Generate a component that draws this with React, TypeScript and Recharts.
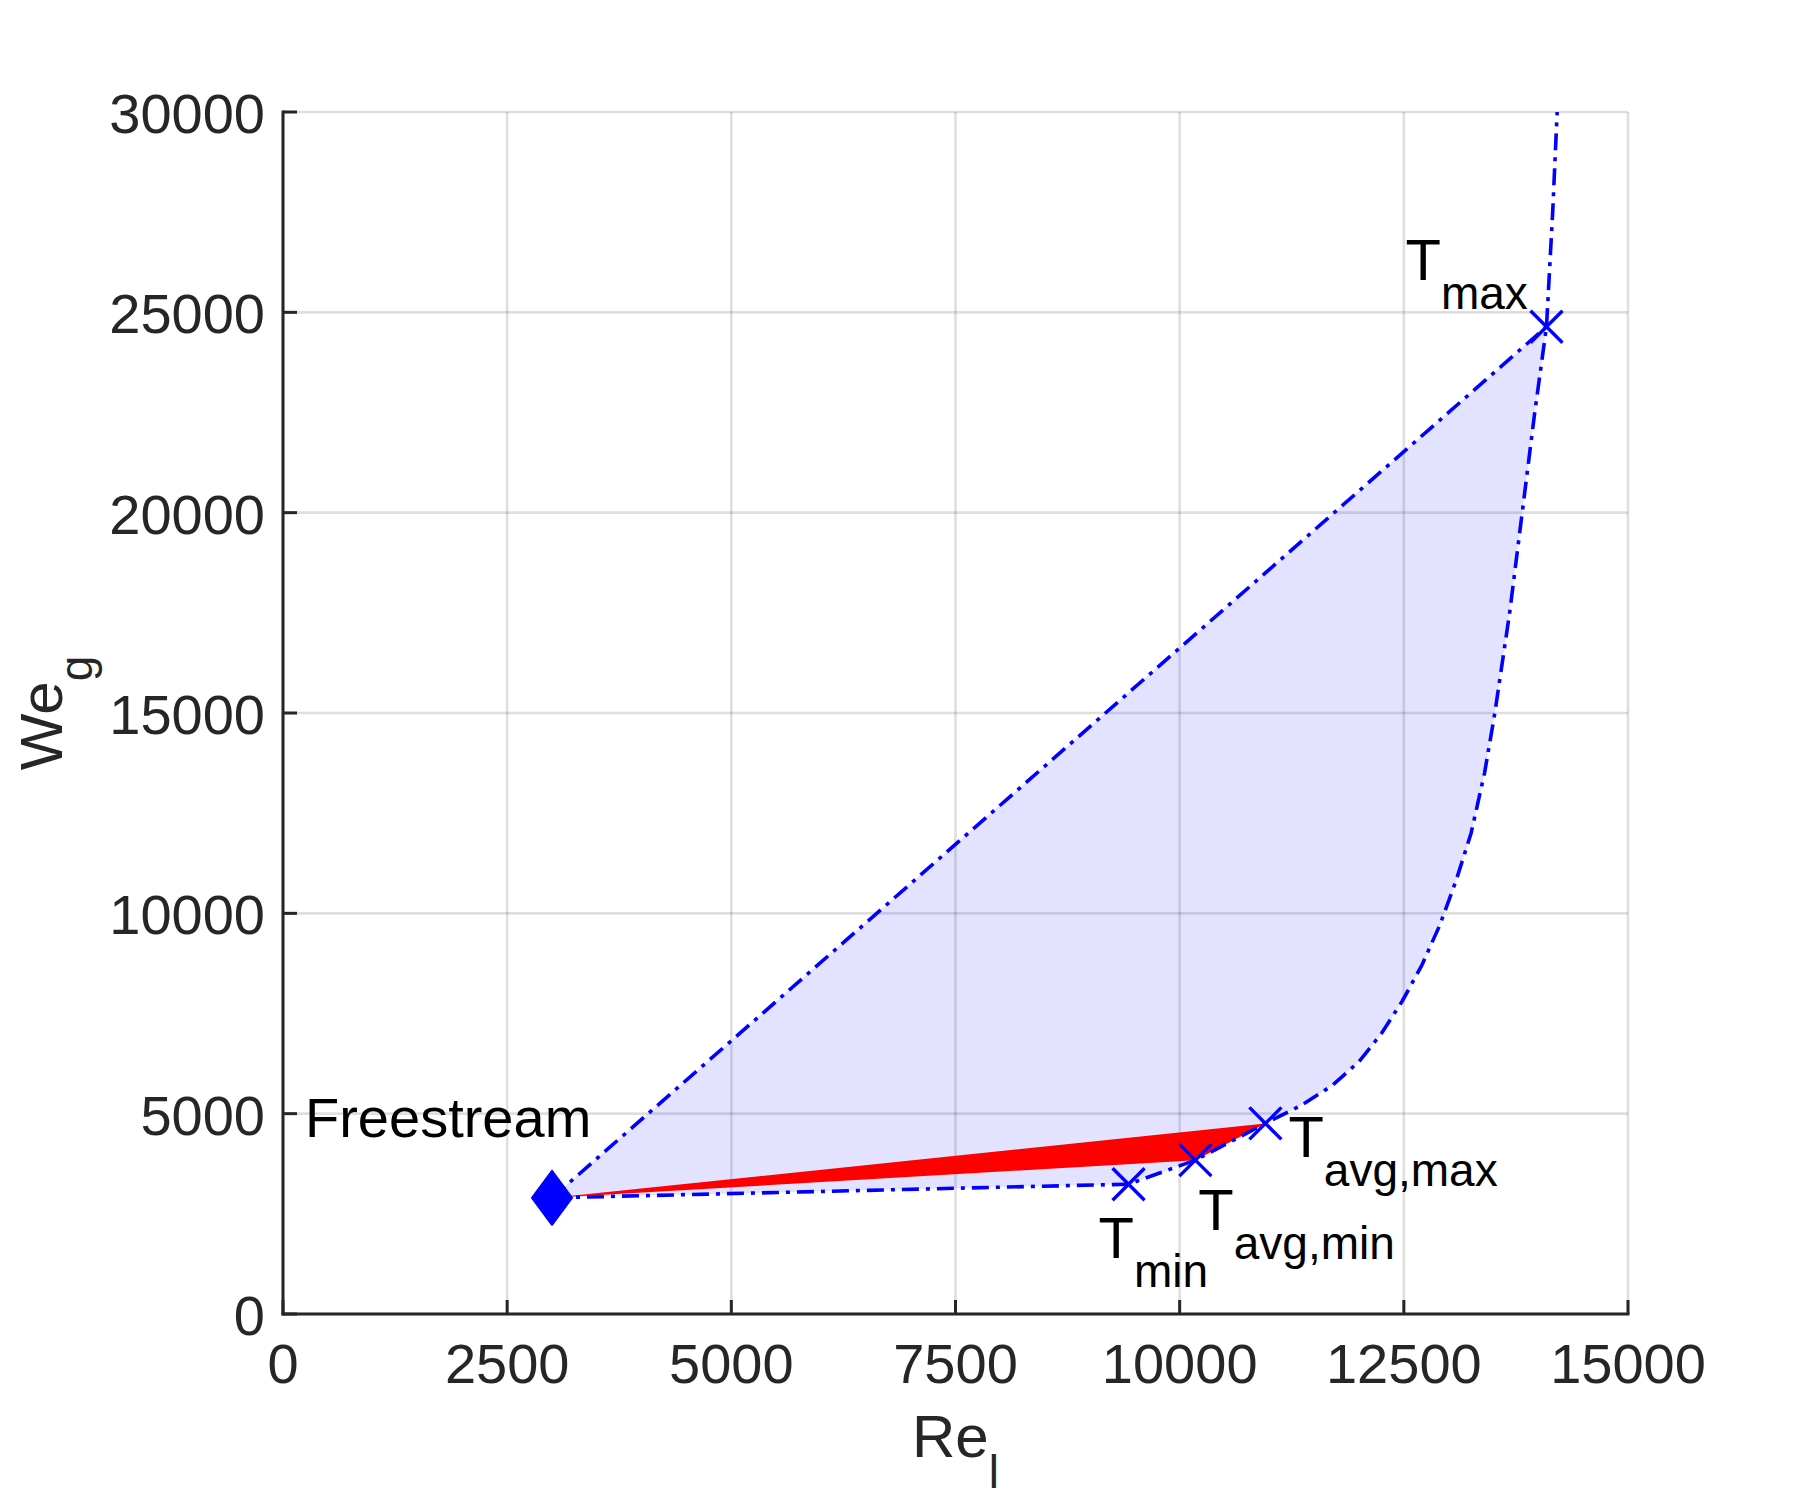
import React from 'react';
import {
  ComposedChart,
  XAxis,
  YAxis,
  CartesianGrid,
  Area,
  Line,
  Scatter,
  ReferenceDot,
} from 'recharts';

// ---------- data ----------
const xTicks = [0, 2500, 5000, 7500, 10000, 12500, 15000];
const yTicks = [0, 5000, 10000, 15000, 20000, 25000, 30000];

const freestream = { x: 3000, y: 2900 };

// characteristic states: T_min, T_avg,min, T_avg,max, T_max
const stateNames = ['min', 'avg,min', 'avg,max', 'max'];
const stateRe = [9430, 10175, 10956, 14091];
const stateWe = [3240, 3840, 4757, 24642];

// curve between T_avg,max and T_max
const curveRe = [11350, 11700, 12000, 12250, 12480, 12700, 12900, 13080, 13250, 13400, 13515, 13680, 13820, 13960];
const curveWe = [5200, 5700, 6300, 7000, 7800, 8700, 9700, 10800, 12000, 13500, 15000, 17500, 20000, 22500];

// curve beyond T_max
const beyondRe = [14160, 14210];
const beyondWe = [27500, 30000];

// ---------- derived tables ----------
const states = stateNames.map((n, i) => ({ name: n, x: stateRe[i], y: stateWe[i] }));
const [tMin, tAvgMin, tAvgMax, tMax] = states;
const curve = curveRe.map((x, i) => ({ x, y: curveWe[i] }));
const beyond = beyondRe.map((x, i) => ({ x, y: beyondWe[i] }));

const lowerPath = [freestream, tMin, tAvgMin, tAvgMax, ...curve, tMax, ...beyond];
const chord = [freestream, tMax];
const envelope = [freestream, tMax, ...[...curve].reverse(), tAvgMax, tAvgMin, tMin, freestream];
const redRegion = [freestream, tAvgMax, tAvgMin, freestream];

// ---------- styles ----------
const AXIS = '#262626';
const FONT = '"Liberation Sans", Arial, Helvetica, sans-serif';
const BLUE = '#0000ff';
const DASH = '17 7 4 7';
const LW = 3.6;

function XTick(props: any) {
  const { x, y, payload } = props;
  return (
    <g>
      <line x1={x} y1={y} x2={x} y2={y - 14} stroke={AXIS} strokeWidth={3} />
      <text x={x} y={y + 69} textAnchor="middle" fill={AXIS} fontSize={56} fontFamily={FONT}>
        {payload.value}
      </text>
    </g>
  );
}

function YTick(props: any) {
  const { x, y, payload } = props;
  return (
    <g>
      <line x1={x} y1={y} x2={x + 14} y2={y} stroke={AXIS} strokeWidth={3} />
      <text x={x - 18} y={y + 21} textAnchor="end" fill={AXIS} fontSize={56} fontFamily={FONT}>
        {payload.value}
      </text>
    </g>
  );
}

function XLabel(props: any) {
  const vb = props.viewBox || { x: 0, y: 0, width: 0, height: 0 };
  const cx = vb.x + vb.width / 2;
  const y = vb.y + 143;
  return (
    <text x={cx} y={y} textAnchor="middle" fill={AXIS} fontFamily={FONT} fontSize={60}>
      <tspan>Re</tspan>
      <tspan fontSize={46} dy={31}>l</tspan>
    </text>
  );
}

function YLabel(props: any) {
  const vb = props.viewBox || { x: 0, y: 0, width: 0, height: 0 };
  const cy = vb.y + vb.height / 2;
  const x = 62;
  return (
    <text
      x={x}
      y={cy}
      textAnchor="middle"
      fill={AXIS}
      fontFamily={FONT}
      fontSize={60}
      transform={`rotate(-90, ${x}, ${cy})`}
    >
      <tspan>We</tspan>
      <tspan fontSize={46} dy={30}>g</tspan>
    </text>
  );
}

function Annot(props: any) {
  const { viewBox, main, sub, dx, dy, size } = props;
  const vb = viewBox || { x: 0, y: 0, width: 0, height: 0 };
  const x = vb.x + (vb.width || 0) / 2 + dx;
  const y = vb.y + (vb.height || 0) / 2 + dy;
  return (
    <text x={x} y={y} fill="#000" fontFamily={FONT} fontSize={size}>
      <tspan>{main}</tspan>
      {sub ? (
        <tspan fontSize={46} dy={29}>
          {sub}
        </tspan>
      ) : null}
    </text>
  );
}

function Cross(props: any) {
  const { cx, cy } = props;
  const s = 16;
  return (
    <g>
      <line x1={cx - s} y1={cy - s} x2={cx + s} y2={cy + s} stroke={BLUE} strokeWidth={3.4} />
      <line x1={cx - s} y1={cy + s} x2={cx + s} y2={cy - s} stroke={BLUE} strokeWidth={3.4} />
    </g>
  );
}

function Diamond(props: any) {
  const { cx, cy } = props;
  const w = 20;
  const h = 27;
  return (
    <polygon
      points={`${cx},${cy - h} ${cx + w},${cy} ${cx},${cy + h} ${cx - w},${cy}`}
      fill={BLUE}
      stroke={BLUE}
      strokeWidth={2}
      strokeLinejoin="round"
    />
  );
}

const labelOffsets: Record<string, { dx: number; dy: number }> = {
  min: { dx: -30, dy: 74 },
  'avg,min': { dx: 3, dy: 70 },
  'avg,max': { dx: 23, dy: 34 },
  max: { dx: -141, dy: -47 },
};

export default function App() {
  return (
    <div style={{ position: 'absolute', left: 0, top: 0, background: '#fff' }}>
      <ComposedChart
        width={1800}
        height={1500}
        margin={{ top: 112, right: 172, bottom: 0, left: 0 }}
      >
        <CartesianGrid stroke={AXIS} strokeOpacity={0.15} strokeWidth={2.6} />
        <XAxis
          type="number"
          dataKey="x"
          domain={[0, 15000]}
          ticks={xTicks}
          interval={0}
          height={186}
          tickSize={0}
          tickMargin={0}
          tickLine={false}
          axisLine={{ stroke: AXIS, strokeWidth: 3, strokeLinecap: 'square' }}
          tick={<XTick />}
          label={<XLabel />}
          allowDataOverflow
        />
        <YAxis
          type="number"
          dataKey="y"
          domain={[0, 30000]}
          ticks={yTicks}
          interval={0}
          width={283}
          tickSize={0}
          tickMargin={0}
          tickLine={false}
          axisLine={{ stroke: AXIS, strokeWidth: 3, strokeLinecap: 'square' }}
          tick={<YTick />}
          label={<YLabel />}
          allowDataOverflow
        />
        <Area
          data={envelope}
          dataKey="y"
          type="linear"
          stroke="none"
          fill={BLUE}
          fillOpacity={0.11}
          isAnimationActive={false}
          dot={false}
          activeDot={false}
        />
        <Area
          data={redRegion}
          dataKey="y"
          type="linear"
          stroke="none"
          fill="#ff0000"
          fillOpacity={1}
          isAnimationActive={false}
          dot={false}
          activeDot={false}
        />
        <Line
          data={chord}
          dataKey="y"
          type="linear"
          stroke={BLUE}
          strokeWidth={LW}
          strokeDasharray={DASH}
          dot={false}
          activeDot={false}
          isAnimationActive={false}
        />
        <Line
          data={lowerPath}
          dataKey="y"
          type="linear"
          stroke={BLUE}
          strokeWidth={LW}
          strokeDasharray={DASH}
          dot={false}
          activeDot={false}
          isAnimationActive={false}
        />
        <Scatter data={states} dataKey="y" shape={<Cross />} isAnimationActive={false} />
        <Scatter data={[freestream]} dataKey="y" shape={<Diamond />} isAnimationActive={false} />
        <ReferenceDot
          x={freestream.x}
          y={freestream.y}
          r={0}
          fill="none"
          stroke="none"
          ifOverflow="visible"
          label={<Annot main="Freestream" sub="" dx={-247} dy={-61} size={56} />}
        />
        {states.map((s) => (
          <ReferenceDot
            key={s.name}
            x={s.x}
            y={s.y}
            r={0}
            fill="none"
            stroke="none"
            ifOverflow="visible"
            label={
              <Annot
                main="T"
                sub={s.name}
                dx={labelOffsets[s.name].dx}
                dy={labelOffsets[s.name].dy}
                size={58}
              />
            }
          />
        ))}
      </ComposedChart>
    </div>
  );
}
